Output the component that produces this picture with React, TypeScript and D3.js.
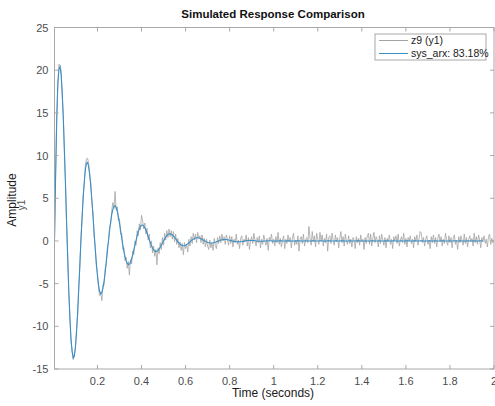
import React, { useEffect, useRef } from "react";
import * as d3 from "d3";

// sample time of the data (s); first sample sits at t = Ts
const Ts = 0.005;

const measured = [
  0.3, 7.9, 14.6, 18.1, 20.7, 20.6, 19.9, 17.0, 14.8, 10.2,
  6.9, 1.8, -1.7, -6.3, -8.8, -11.9, -12.7, -13.9, -13.2, -12.7,
  -10.3, -8.8, -5.3, -3.2, 0.5, 2.4, 5.4, 6.6, 8.9, 9.6,
  9.7, 9.1, 7.5, 6.8, 4.3, 3.3, 0.5, -0.6, -3.0, -3.7,
  -5.6, -6.4, -6.1, -7.0, -5.1, -5.2, -3.2, -2.9, -0.7, -0.3,
  1.7, 2.0, 3.6, 4.5, 3.8, 5.8, 3.6, 4.0, 2.4, 2.6,
  0.8, 0.9, -1.0, -0.8, -2.3, -1.9, -3.2, -2.4, -4.0, -2.2,
  -2.7, -1.2, -1.6, 0.0, -0.5, 1.2, 0.6, 2.0, 1.3, 3.0,
  2.4, 1.4, 2.1, 0.8, 1.5, 0.1, 0.8, -0.8, 0.0, -1.4,
  -0.6, -1.8, -1.0, -2.8, -0.8, -1.5, -0.2, -1.0, 0.4, -0.5,
  0.9, 0.1, 1.2, 0.4, 1.4, 0.5, 1.2, 0.2, 1.1, -0.1,
  0.8, -0.4, 0.3, -0.8, -0.1, -1.1, -0.3, -1.6, -0.2, -0.9,
  -0.4, -1.3, 0.2, -0.6, 0.5, -0.3, 0.9, 0.1, 0.8, -0.2,
  1.0, 0.3, 0.6, -0.2, 0.7, -0.4, 0.3, -0.7, 0.2, -0.6,
  -1.0, 0.1, -0.8, -0.2, -1.1, 0.3, -0.5, -0.9, 0.4, -0.3,
  0.6, -0.2, 0.8, 0.0, 0.5, -0.4, 0.7, 0.2, -0.5, 0.6,
  -0.3, 0.5, -0.7, 0.2, -0.2, 0.8, -0.4, 0.1, -0.9, 0.3,
  0.6, -0.5, 0.2, -0.1, 0.7, -0.6, 0.4, -1.0, 0.0, 0.5,
  -0.3, 0.9, 0.1, -0.6, 0.4, -0.2, 0.6, -0.8, 0.2, -0.4,
  0.7, 0.0, -0.5, 0.3, -1.1, 0.4, 0.1, 0.8, -0.3, 0.2,
  -0.6, 0.5, -0.2, 1.0, -0.4, 0.3, -0.7, 0.1, 0.6, -0.9,
  0.2, -0.3, 0.7, -0.1, 0.4, -0.8, 0.3, 0.9, -0.5, 0.1,
  -0.4, 0.6, -1.2, 0.2, 0.5, -0.3, 0.8, -0.6, 0.1, 0.4,
  -0.2, 1.7, 0.3, -0.5, 1.1, -0.1, 0.6, -0.7, 0.9, 0.2,
  -0.4, 1.0, 0.0, 0.7, -0.6, 0.3, -0.2, 0.8, -1.2, 0.4,
  0.6, -0.3, 0.9, 0.1, -0.5, 0.7, -0.1, 0.4, -0.8, 0.3,
  1.1, -0.2, 0.5, -0.6, 0.8, 0.0, -0.4, 0.6, -0.3, 0.2,
  -0.7, 0.4, 0.1, -0.9, 0.5, -0.2, 0.3, -0.5, 0.7, -0.1,
  0.2, -1.0, 0.4, -0.3, 0.6, 0.9, -0.4, 0.8, -0.6, 0.3,
  1.0, -0.2, 0.5, 0.1, -0.7, 0.6, -0.3, 0.8, 0.2, -0.5,
  0.4, -0.8, 0.3, -0.1, 0.7, -0.4, 0.2, -0.9, 0.5, 0.0,
  0.6, -0.3, 0.8, -0.6, 0.1, 0.5, -0.2, 0.9, -0.4, 0.3,
  -0.7, 0.4, 0.0, 0.6, -0.3, 0.2, -0.8, 0.5, -0.1, 0.7,
  -0.5, 0.3, 1.1, 0.9, -0.2, 0.4, -0.6, 0.2, 0.6, -0.4,
  0.1, -0.9, 0.5, -0.2, 0.7, -0.3, 0.4, -0.7, 0.3, 0.8,
  -0.1, 0.5, -0.6, 0.2, -0.3, 0.9, 0.0, -0.5, 0.6, -0.2,
  0.4, -0.8, 0.3, 0.7, -0.4, 0.1, -1.0, 0.5, -0.2, 0.6,
  0.0, -0.5, 0.8, -0.3, 0.4, -0.7, 0.2, 0.6, -0.1, 0.3,
  -0.6, 0.9, -0.2, 0.5, -0.4, 0.7, 0.1, -0.8, 0.4, -0.1,
  0.6, -0.3, 0.2, -0.7, 0.5, 0.8, -0.4, 0.3, -0.2, 0.1,
];

// simulated output of sys_arx
const simulated = [
  0, 7.5, 14.0, 18.4, 20.1, 20.4, 19.5, 17.4, 14.3, 10.6,
  6.4, 2.1, -2.1, -5.9, -9.1, -11.5, -13.0, -13.7, -13.5, -12.4,
  -10.7, -8.4, -5.7, -2.8, 0.0, 2.7, 4.9, 6.9, 8.3, 9.1,
  9.2, 8.7, 7.8, 6.3, 4.7, 2.8, 0.9, -1.0, -2.6, -4.1,
  -5.2, -5.9, -6.2, -6.0, -5.5, -4.7, -3.7, -2.4, -1.2, 0.05,
  1.2, 2.25, 3.1, 3.7, 4.06, 4.13, 3.91, 3.48, 2.83, 2.11,
  1.26, 0.39, -0.43, -1.22, -1.83, -2.34, -2.64, -2.77, -2.71, -2.49,
  -2.09, -1.66, -1.06, -0.55, 0.04, 0.57, 1.03, 1.42, 1.68, 1.83,
  1.86, 1.75, 1.55, 1.26, 0.93, 0.55, 0.15, -0.21, -0.55, -0.83,
  -1.05, -1.19, -1.25, -1.22, -1.11, -0.94, -0.73, -0.47, -0.24, 0.02,
  0.25, 0.46, 0.63, 0.76, 0.82, 0.83, 0.79, 0.7, 0.57, 0.42,
  0.26, 0.07, -0.09, -0.25, -0.37, -0.48, -0.53, -0.56, -0.55, -0.5,
  -0.42, -0.33, -0.21, -0.11, 0.0, 0.12, 0.21, 0.29, 0.34, 0.37,
  0.37, 0.35, 0.31, 0.25, 0.19, 0.11, 0.03, -0.04, -0.11, -0.17,
  -0.21, -0.24, -0.25, -0.24, -0.22, -0.19, -0.15, -0.09, -0.05, 0.01,
  0.05, 0.1, 0.13, 0.15, 0.16, 0.17, 0.16, 0.14, 0.11, 0.08,
  0.05, 0.01, -0.02, -0.05, -0.07, -0.09, -0.1, -0.11, -0.1, -0.09,
  -0.07, -0.05, -0.02, 0.01, 0.03, 0.05, 0.06, 0.07, 0.07, 0.06,
  0.05, 0.04, 0.02, 0.0, -0.02, -0.03, -0.04, -0.04, -0.04, -0.03,
  -0.02, -0.01, 0.0, 0.01, 0.02, 0.02, 0.02, 0.01, 0.0, -0.01,
  -0.02, -0.02, -0.01, 0.0, 0.01, 0.02, 0.01, 0.0, -0.01, -0.01,
  0.0, 0.01, 0.02, 0.01, 0.0, -0.01, -0.02, -0.01, 0.0, 0.01,
  0.01, 0.02, 0.01, 0.0, -0.01, -0.02, -0.01, 0.0, 0.01, 0.01,
  0.0, -0.01, -0.01, 0.0, 0.01, 0.02, 0.01, 0.0, -0.01, -0.01,
  0.0, 0.01, 0.01, 0.0, -0.01, -0.02, -0.01, 0.0, 0.01, 0.02,
  0.01, 0.0, -0.01, -0.01, 0.0, 0.01, 0.01, 0.0, -0.01, 0.0,
  0.01, 0.02, 0.01, 0.0, -0.01, -0.02, -0.01, 0.0, 0.01, 0.01,
  0.0, -0.01, -0.01, 0.0, 0.01, 0.01, 0.02, 0.01, 0.0, -0.01,
  -0.01, 0.0, 0.01, 0.0, -0.01, -0.02, -0.01, 0.0, 0.01, 0.02,
  0.01, 0.0, -0.01, 0.0, 0.01, 0.01, 0.0, -0.01, -0.01, 0.0,
  0.01, 0.02, 0.01, 0.0, -0.01, -0.01, 0.0, 0.01, 0.01, 0.0,
  -0.01, -0.02, -0.01, 0.0, 0.01, 0.01, 0.0, -0.01, 0.0, 0.01,
  0.02, 0.01, 0.0, -0.01, -0.01, 0.0, 0.01, 0.01, 0.0, -0.01,
  -0.01, 0.0, 0.01, 0.02, 0.01, 0.0, -0.01, -0.02, -0.01, 0.0,
  0.01, 0.01, 0.0, -0.01, 0.0, 0.01, 0.01, 0.0, -0.01, -0.01,
  0.0, 0.01, 0.02, 0.01, 0.0, -0.01, -0.01, 0.0, 0.01, 0.0,
  -0.01, -0.01, 0.0, 0.01, 0.01, 0.0, -0.01, 0.0, 0.01, 0.01,
  0.0, -0.01, -0.02, -0.01, 0.0, 0.01, 0.01, 0.0, -0.01, 0.0,
  0.01, 0.01, 0.0, -0.01, -0.01, 0.0, 0.01, 0.01, 0.0, 0.0,
];

const xTicks = [0.2, 0.4, 0.6, 0.8, 1, 1.2, 1.4, 1.6, 1.8, 2];
const yTicks = [-15, -10, -5, 0, 5, 10, 15, 20, 25];
const legendItems = [
  { label: "z9 (y1)", color: "#a3a3a3" },
  { label: "sys_arx: 83.18%", color: "#3a8fc6" },
];

export default function App() {
  const svgRef = useRef<SVGSVGElement>(null);
  const width = 495;
  const height = 406;
  const plot = { left: 54.5, right: 494, top: 27.5, bottom: 369 };
  const font = "'Liberation Sans', Arial, Helvetica, sans-serif";

  useEffect(() => {
    const svg = d3.select(svgRef.current);
    svg.selectAll("*").remove();

    const x = d3.scaleLinear().domain([Ts, 2]).range([plot.left, plot.right]);
    const y = d3.scaleLinear().domain([-15, 25]).range([plot.bottom, plot.top]);

    svg.append("rect").attr("width", width).attr("height", height).attr("fill", "#fff");

    svg
      .append("defs")
      .append("clipPath")
      .attr("id", "plotclip")
      .append("rect")
      .attr("x", plot.left)
      .attr("y", plot.top)
      .attr("width", plot.right - plot.left)
      .attr("height", plot.bottom - plot.top);

    const line = d3
      .line<number>()
      .x((_, i) => x(Ts * (i + 1)))
      .y((d) => y(d));

    const g = svg.append("g").attr("clip-path", "url(#plotclip)");
    g.append("path")
      .attr("d", line(measured))
      .attr("fill", "none")
      .attr("stroke", "#a3a3a3")
      .attr("stroke-width", 0.8);
    g.append("path")
      .attr("d", line(simulated))
      .attr("fill", "none")
      .attr("stroke", "#3a8fc6")
      .attr("stroke-width", 1.1);

    // frame
    svg
      .append("rect")
      .attr("x", plot.left)
      .attr("y", plot.top)
      .attr("width", plot.right - plot.left)
      .attr("height", plot.bottom - plot.top)
      .attr("fill", "none")
      .attr("stroke", "#a8a8a8")
      .attr("stroke-width", 1);

    // inward ticks on all four sides
    const tickLen = 4;
    const ticks = svg.append("g").attr("stroke", "#a8a8a8").attr("stroke-width", 1);
    xTicks.forEach((t) => {
      const px = x(t);
      ticks.append("line").attr("x1", px).attr("x2", px).attr("y1", plot.bottom).attr("y2", plot.bottom - tickLen);
      ticks.append("line").attr("x1", px).attr("x2", px).attr("y1", plot.top).attr("y2", plot.top + tickLen);
    });
    yTicks.forEach((t) => {
      const py = y(t);
      ticks.append("line").attr("x1", plot.left).attr("x2", plot.left + tickLen).attr("y1", py).attr("y2", py);
      ticks.append("line").attr("x1", plot.right).attr("x2", plot.right - tickLen).attr("y1", py).attr("y2", py);
    });

    // tick labels
    svg
      .append("g")
      .selectAll("text")
      .data(xTicks)
      .enter()
      .append("text")
      .attr("x", (d) => x(d))
      .attr("y", plot.bottom + 16)
      .attr("text-anchor", "middle")
      .attr("font-family", font)
      .attr("font-size", 11)
      .attr("fill", "#4d4d4d")
      .text((d) => String(d));

    svg
      .append("g")
      .selectAll("text")
      .data(yTicks)
      .enter()
      .append("text")
      .attr("x", plot.left - 6)
      .attr("y", (d) => y(d) + 4)
      .attr("text-anchor", "end")
      .attr("font-family", font)
      .attr("font-size", 11)
      .attr("fill", "#4d4d4d")
      .text((d) => String(d));

    // title and axis labels
    svg
      .append("text")
      .attr("x", 273)
      .attr("y", 18)
      .attr("text-anchor", "middle")
      .attr("font-family", font)
      .attr("font-size", 11.5)
      .attr("font-weight", "bold")
      .attr("fill", "#111")
      .text("Simulated Response Comparison");

    svg
      .append("text")
      .attr("x", 273)
      .attr("y", 397)
      .attr("text-anchor", "middle")
      .attr("font-family", font)
      .attr("font-size", 12)
      .attr("fill", "#1a1a1a")
      .text("Time (seconds)");

    svg
      .append("text")
      .attr("transform", "translate(15.5,200) rotate(-90)")
      .attr("text-anchor", "middle")
      .attr("font-family", font)
      .attr("font-size", 12)
      .attr("fill", "#1a1a1a")
      .text("Amplitude");

    svg
      .append("text")
      .attr("transform", "translate(25,205) rotate(-90)")
      .attr("text-anchor", "middle")
      .attr("font-family", font)
      .attr("font-size", 10)
      .attr("fill", "#555")
      .text("y1");

    // legend
    const lg = svg.append("g").attr("transform", "translate(375,34)");
    lg.append("rect")
      .attr("width", 111)
      .attr("height", 26)
      .attr("fill", "#fff")
      .attr("stroke", "#a8a8a8")
      .attr("stroke-width", 1);
    legendItems.forEach((item, i) => {
      const cy = 6.5 + i * 13;
      lg.append("line")
        .attr("x1", 4)
        .attr("x2", 33)
        .attr("y1", cy)
        .attr("y2", cy)
        .attr("stroke", item.color)
        .attr("stroke-width", 1);
      lg.append("text")
        .attr("x", 36)
        .attr("y", cy + 3.8)
        .attr("font-family", font)
        .attr("font-size", 10.5)
        .attr("fill", "#1a1a1a")
        .text(item.label);
    });
  }, []);

  return (
    <svg
      ref={svgRef}
      width={width}
      height={height}
      style={{ position: "absolute", left: 0, top: 0 }}
    ></svg>
  );
}
